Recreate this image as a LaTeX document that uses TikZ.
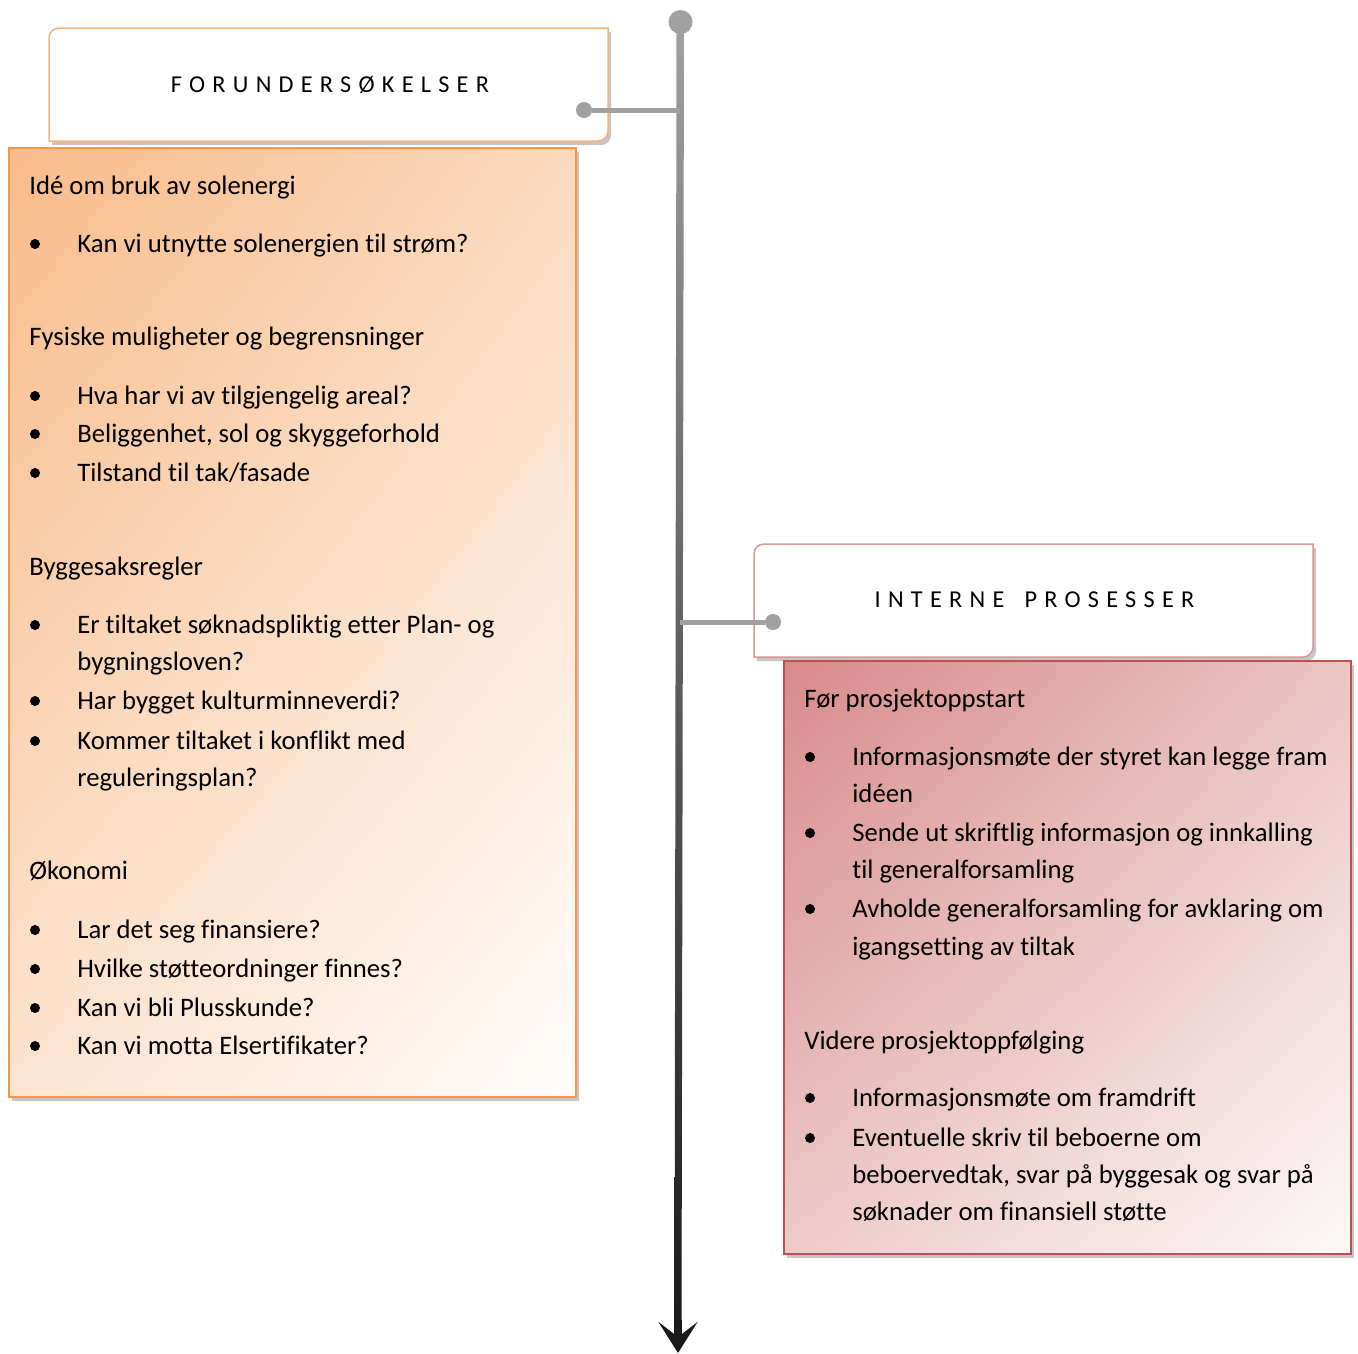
\documentclass[tikz,border=0pt]{standalone}
\usepackage{fontspec}
\setmainfont{Carlito}[Ligatures=NoCommon]
\usepackage{tikz}
\usetikzlibrary{shadows,shadings,arrows.meta}
\definecolor{linegray}{HTML}{A0A0A0}
\definecolor{orangeline}{HTML}{F79646}
\definecolor{orangesoft}{HTML}{F9B27A}
\definecolor{orangefill}{HTML}{F8BB8A}
\definecolor{redline}{HTML}{C0504D}
\definecolor{redsoft}{HTML}{D99694}
\definecolor{redfill}{HTML}{D78B8A}

\begin{document}
\begin{tikzpicture}[x=0.02cm,y=-0.02cm]
\tikzstyle{txt}=[anchor=base west,inner sep=0pt,font=\fontsize{15.2}{18}\selectfont]
\tikzstyle{bulletdot}=[circle,fill=black,inner sep=0pt,minimum size=0.2cm]
\tikzstyle{knob}=[circle,fill=linegray,inner sep=0pt,minimum size=0.32cm]
\tikzstyle{conn}=[linegray,line width=0.1cm]
\tikzstyle{headtext}=[inner sep=0pt,font=\fontsize{13.8}{16}\selectfont\addfontfeature{LetterSpace=30}]
\tikzstyle{softshadow}=[drop shadow={shadow xshift=0.06cm,shadow yshift=-0.08cm,opacity=0.45}]
\tikzstyle{orangebox}=[draw=orangeline,line width=0.04cm,shade,upper left=orangefill,upper right=orangefill!55!white,lower left=orangefill!40!white,lower right=orangefill!3!white,softshadow,minimum width=11.34cm,minimum height=18.98cm]
\tikzstyle{redbox}=[draw=redline,line width=0.04cm,shade,upper left=redfill,upper right=redfill!50!white,lower left=redfill!45!white,lower right=redfill!5!white,softshadow,minimum width=11.34cm,minimum height=11.86cm]
\useasboundingbox (0,0) rectangle (1358,1353);

\shade[top color=linegray,middle color=linegray!75!black,bottom color=black!90] (676.5,22) -- (684,22) -- (681.5,1334) -- (674.5,1334) -- cycle;
\node[knob,minimum size=0.48cm] (ttop) at (680.5,22) {};
\coordinate (tarr) at (678,1320);
\coordinate (tend) at (678,1353);
\draw[black!90,line width=0.15cm,-{Stealth[length=0.62cm,width=0.78cm,inset=0.3cm]}] (tarr) -- (tend);

\coordinate (fnw) at (49,28);
\coordinate (fse) at (608,141);
\filldraw[draw=orangesoft,fill=white,line width=0.03cm,softshadow] (fnw |- fse) [rounded corners=0.2cm] -- (fnw) [sharp corners] -- (fse |- fnw) [rounded corners=0.2cm] -- (fse) [sharp corners] -- cycle;
\node[headtext] (fhead) at (330,85) {FORUNDERSØKELSER};
\node[knob] (fknob) at (584,110) {};
\coordinate (tl1) at (680,110);
\draw[conn] (fknob) -- (tl1);

\node[orangebox] (fbox) at (292.5,622.5) {};
\foreach \y/\t in {194/{Idé om bruk av solenergi},345/{Fysiske muligheter og begrensninger},575/{Byggesaksregler},879/{Økonomi}}
  \node[txt] (fh\y) at (29,\y) {\t};
\foreach \y/\t in {252/{Kan vi utnytte solenergien til strøm?},404/{Hva har vi av tilgjengelig areal?},442/{Beliggenhet, sol og skyggeforhold},481/{Tilstand til tak/fasade},633/{Er tiltaket søknadspliktig etter Plan- og},709/{Har bygget kulturminneverdi?},749/{Kommer tiltaket i konflikt med},938/{Lar det seg finansiere?},977/{Hvilke støtteordninger finnes?},1016/{Kan vi bli Plusskunde?},1054/{Kan vi motta Elsertifikater?}}{
  \node[bulletdot] (fb\y) at (35,\y-8) {};
  \node[txt] (fl\y) at (77,\y) {\t};
}
\foreach \y/\t in {670/{bygningsloven?},786/{reguleringsplan?}}
  \node[txt] (fl\y) at (77,\y) {\t};

\coordinate (rnw) at (754,544);
\coordinate (rse) at (1313,657);
\filldraw[draw=redsoft,fill=white,line width=0.03cm,softshadow] (rnw |- rse) [rounded corners=0.2cm] -- (rnw) [sharp corners] -- (rse |- rnw) [rounded corners=0.2cm] -- (rse) [sharp corners] -- cycle;
\node[headtext] (rhead) at (1034.5,600) {INTERNE\hspace{0.15cm} PROSESSER};
\node[knob] (rknob) at (773,622) {};
\coordinate (tl2) at (680,622);
\draw[conn] (tl2) -- (rknob);

\node[redbox] (rbox) at (1067.5,957.5) {};
\foreach \y/\t in {707/{Før prosjektoppstart},1049/{Videre prosjektoppfølging}}
  \node[txt] (rh\y) at (804,\y) {\t};
\foreach \y/\t in {765/{Informasjonsmøte der styret kan legge fram},841/{Sende ut skriftlig informasjon og innkalling},917/{Avholde generalforsamling for avklaring om},1106/{Informasjonsmøte om framdrift},1146/{Eventuelle skriv til beboerne om}}{
  \node[bulletdot] (rb\y) at (810,\y-8) {};
  \node[txt] (rl\y) at (852,\y) {\t};
}
\foreach \y/\t in {802/{idéen},878/{til generalforsamling},955/{igangsetting av tiltak},1183/{beboervedtak, svar på byggesak og svar på},1220/{søknader om finansiell støtte}}
  \node[txt] (rl\y) at (852,\y) {\t};
\end{tikzpicture}
\end{document}
